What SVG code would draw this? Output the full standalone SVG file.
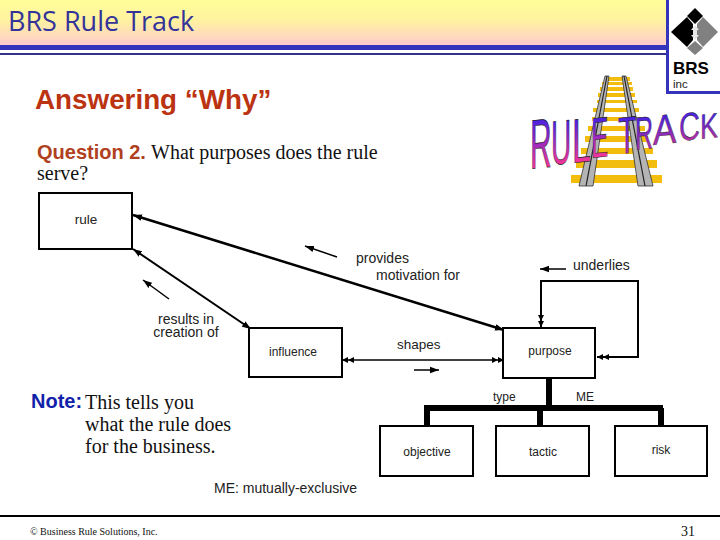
<svg xmlns="http://www.w3.org/2000/svg" width="720" height="540" viewBox="0 0 720 540">
<style>
.s{font-family:"Liberation Sans",Arial,sans-serif;fill:#222}
.t{font-family:"Liberation Serif","Times New Roman",serif;fill:#111}
.b{font-weight:bold}
.box{fill:#fff;stroke:#000;stroke-width:2}
.m{text-anchor:middle;font-size:12px}
.c{fill:none;stroke:#000}
.tie{fill:#f2bd0c}
.rail{fill:#b4b4b4;stroke:#333;stroke-width:.8}
.wa{font-family:"Liberation Sans",Arial,sans-serif;font-size:10px;stroke:#222;stroke-width:.1}
</style>
<defs>
<linearGradient id="hdr" x1="0" y1="0" x2="0" y2="1"><stop offset="0" stop-color="#ffff99"/><stop offset=".45" stop-color="#fff2a0"/><stop offset="1" stop-color="#ffcccc"/></linearGradient>
<linearGradient id="w1" x1="0" y1="0" x2="0" y2="1"><stop offset=".2" stop-color="#4a22e0"/><stop offset=".8" stop-color="#f0359a"/></linearGradient>
<linearGradient id="w2" x1="0" y1="0" x2="0" y2="1"><stop offset=".2" stop-color="#4a22e0"/><stop offset=".8" stop-color="#b030a8"/></linearGradient>
<marker id="a" markerUnits="userSpaceOnUse" markerWidth="10" markerHeight="8" refX="9" refY="4" orient="auto-start-reverse"><path d="M0 .8L9 4L0 7.2z" fill="#000"/></marker>
<marker id="d" markerUnits="userSpaceOnUse" markerWidth="13" markerHeight="8" refX="12" refY="4" orient="auto-start-reverse"><path d="M0 1L6 4L0 7zM6 1L12 4L6 7z" fill="#000"/></marker>
</defs>

<g id="header">
<rect x="0" y="0" width="666" height="45" fill="url(#hdr)"/>
<rect x="0" y="45" width="666" height="5" fill="#3333bb"/>
<rect x="0" y="53" width="666" height="2" fill="#333388"/>
<rect x="666" y="0" width="3" height="94" fill="#3333bb"/>
<rect x="666" y="91" width="54" height="3" fill="#3333bb"/>
<text x="8" y="31" font-family="'Open Sans','Noto Sans',sans-serif" font-size="27" fill="#333399">BRS Rule Track</text>
</g>

<g id="logo">
<polygon points="695,8 703,16 695,24 687,16" fill="#000"/>
<polygon points="671,32 687,17 693,24 693,40 687,47" fill="#000"/>
<polygon points="697,24 703,17 718,32 703,47 697,40" fill="#808080"/>
<polygon points="695,41 703,48 695,55 687,48" fill="#808080"/>
<polygon points="695,25 699,30 697,30 697,35 699,35 695,40 691,35 693,35 693,30 691,30" fill="#e8e8e8"/>
<text x="673" y="74" class="s b" font-size="17" style="fill:#000">BRS</text>
<text x="673" y="88" class="s" font-size="11.5">inc</text>
</g>

<g id="track">
<rect class="tie" x="607" y="77" width="23" height="4"/>
<rect class="tie" x="602" y="82" width="30" height="3"/>
<rect class="tie" x="600" y="87" width="33" height="4"/>
<rect class="tie" x="598" y="93" width="37" height="4"/>
<rect class="tie" x="597" y="100" width="40" height="3"/>
<rect class="tie" x="593" y="108" width="46" height="4"/>
<rect class="tie" x="592" y="117" width="50" height="4"/>
<rect class="tie" x="588" y="126" width="57" height="5"/>
<rect class="tie" x="585" y="136" width="63" height="6"/>
<rect class="tie" x="581" y="148" width="72" height="6"/>
<rect class="tie" x="576" y="160" width="81" height="8"/>
<rect class="tie" x="571" y="175" width="91" height="8"/>
<polygon class="rail" points="605,76 609,76 593,186 579,186"/>
<path d="M607,76L586,186" stroke="#222" stroke-width="1.2" fill="none"/>
<polygon class="rail" points="622,76 626,76 653,186 638,186"/>
<path d="M624,76L645,186" stroke="#222" stroke-width="1.2" fill="none"/>
</g>

<g id="wordart">
<text class="wa" fill="url(#w1)" transform="translate(530,169) skewY(-6) scale(3,7)">R</text>
<text class="wa" fill="url(#w1)" transform="translate(551,165) skewY(-6) scale(2.8,6.25)">U</text>
<text class="wa" fill="url(#w1)" transform="translate(572,163) skewY(-6) scale(3.4,6.25)">L</text>
<text class="wa" fill="url(#w1)" transform="translate(591,158) skewY(-6) scale(2.6,5.7)">E</text>
<text class="wa" fill="url(#w2)" transform="translate(618,154) skewY(-6) scale(3,5.2)">T</text>
<text class="wa" fill="url(#w2)" transform="translate(635,150) skewY(-6) scale(2.5,4.65)">R</text>
<text class="wa" fill="url(#w2)" transform="translate(653,145) skewY(-6) scale(3.5,4.2)">A</text>
<text class="wa" fill="url(#w2)" transform="translate(679,141) skewY(-6) scale(2.9,3.9)">C</text>
<text class="wa" fill="url(#w2)" transform="translate(700,139) skewY(-6) scale(2.7,3.5)">K</text>
</g>

<g id="heading">
<text x="35" y="109" class="s b" font-size="27.8" style="fill:#bb3311">Answering “Why”</text>
<text x="37" y="159" class="s b" font-size="20" style="fill:#b04020">Question 2.</text>
<text x="151" y="159" class="t" font-size="20">What purposes does the rule</text>
<text x="37" y="180" class="t" font-size="20">serve?</text>
</g>

<g id="connectors">
<path class="c" stroke-width="2.5" marker-start="url(#a)" marker-end="url(#a)" d="M133,215L504,330"/>
<path class="c" stroke-width="2" marker-start="url(#a)" marker-end="url(#a)" d="M133,249L251,329"/>
<path class="c" stroke-width="1.5" marker-start="url(#d)" marker-end="url(#d)" d="M342,360L504,360"/>
<path class="c" stroke-width="2" marker-start="url(#d)" marker-end="url(#d)" d="M541,327L541,281L638,281L638,357L597,357"/>
<path class="c" stroke-width="6" d="M549,378V408M424,408H663M427,408V426M540,408V426M661,408V426"/>
<path class="c" stroke-width="1.5" marker-end="url(#a)" d="M337,257L305,246"/>
<path class="c" stroke-width="1.5" marker-end="url(#a)" d="M169,299L143,280"/>
<path class="c" stroke-width="1.5" marker-end="url(#a)" d="M566,269L540,269"/>
<path class="c" stroke-width="1.5" marker-end="url(#a)" d="M414,370L439,370"/>
</g>

<g id="node-rule"><rect class="box" x="39" y="193" width="93" height="56"/><text x="86" y="224" class="s" font-size="13.5" text-anchor="middle">rule</text></g>
<g id="node-influence"><rect class="box" x="249" y="328" width="93" height="49"/><text x="293" y="356" class="s m">influence</text></g>
<g id="node-purpose"><rect class="box" x="503" y="328" width="92" height="50"/><text x="550" y="355" class="s m">purpose</text></g>
<g id="node-objective"><rect class="box" x="380" y="426" width="93" height="50"/><text x="427" y="456" class="s m">objective</text></g>
<g id="node-tactic"><rect class="box" x="496" y="426" width="93" height="50"/><text x="543" y="456" class="s m">tactic</text></g>
<g id="node-risk"><rect class="box" x="615" y="426" width="92" height="50"/><text x="661" y="454" class="s m">risk</text></g>

<g id="labels">
<text x="356" y="263" class="s" font-size="14">provides</text>
<text x="376" y="280" class="s" font-size="14">motivation for</text>
<text x="573" y="270" class="s" font-size="14">underlies</text>
<text class="s" font-size="14" text-anchor="middle"><tspan x="186" y="324">results in</tspan><tspan x="186" y="337">creation of</tspan></text>
<text x="397" y="349" class="s" font-size="13.5">shapes</text>
<text x="493" y="401" class="s" font-size="12">type</text>
<text x="576" y="401" class="s" font-size="12">ME</text>
<text x="214" y="493" class="s" font-size="14">ME: mutually-exclusive</text>
</g>

<g id="note">
<text x="31" y="408" class="s b" font-size="20" style="fill:#1122aa">Note:</text>
<text x="85" y="409" class="t" font-size="20">This tells you</text>
<text x="85" y="431" class="t" font-size="20">what the rule does</text>
<text x="85" y="453" class="t" font-size="20">for the business.</text>
</g>

<g id="footer">
<rect x="0" y="515" width="720" height="2" fill="#000"/>
<text x="30" y="535" class="t" font-size="10">© Business Rule Solutions, Inc.</text>
<text x="681" y="536" class="t" font-size="14">31</text>
</g>
</svg>
